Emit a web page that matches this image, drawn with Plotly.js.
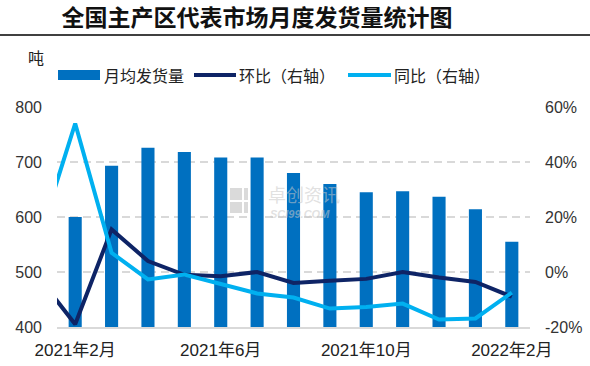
<!DOCTYPE html>
<html>
<head>
<meta charset="utf-8">
<script src="https://cdn.plot.ly/plotly-3.0.1.min.js"></script>
<style>
  html, body { margin: 0; padding: 0; background: #fff; }
  #chart { width: 590px; height: 366px; }
</style>
</head>
<body>
<div id="chart"></div>
<script>
// Months (the first one is only partly visible at the left edge for the lines)
const months = ['2021年1月','2021年2月','2021年3月','2021年4月','2021年5月','2021年6月','2021年7月',
                '2021年8月','2021年9月','2021年10月','2021年11月','2021年12月','2022年1月','2022年2月'];
const barMonths = months.slice(1);
// 月均发货量 (吨)
const shipment = [600, 693, 726, 718, 708, 708, 680, 660, 645, 647, 637, 614, 555];
// 环比 (%)
const mom = [-2, -19, 15.5, 4, -1, -1.5, 0, -4, -3.2, -2.5, 0, -2, -3.6, -9];
// 同比 (%)
const yoy = [12, 54, 7, -2.7, -0.9, -4.2, -7.8, -9.3, -13.3, -12.7, -11.5, -17.3, -16.9, -7.5];
const tickMonths = ['2021年2月', '2021年6月', '2021年10月', '2022年2月'];
const leftTicks = [400, 500, 600, 700, 800];
const rightTicks = [-20, 0, 20, 40, 60];

const W = 590, H = 366, L = 57, R = 60, T = 107, B = 39;
const pw = W - L - R, ph = H - T - B;
const px = x => (x - L) / pw;
const py = y => (H - B - y) / ph;

const numFont = 'Liberation Sans, Arial, Noto Sans CJK SC, sans-serif';
const cjkFont = 'Noto Sans CJK SC, sans-serif';

const traces = [
  {type: 'bar', name: '月均发货量', x: barMonths, y: shipment, marker: {color: '#0070C0'},
   width: 0.36, yaxis: 'y', showlegend: false, hoverinfo: 'x+y'},
  {type: 'scatter', mode: 'lines', name: '环比（右轴）', x: months, y: mom, yaxis: 'y2',
   line: {color: '#0E2466', width: 4}, showlegend: false},
  {type: 'scatter', mode: 'lines', name: '同比（右轴）', x: months, y: yoy, yaxis: 'y2',
   line: {color: '#00B0F0', width: 4}, showlegend: false}
];

const shapes = [
  // title underline
  {type: 'line', xref: 'paper', yref: 'paper', x0: px(0), x1: px(590), y0: py(35), y1: py(35),
   line: {color: '#000', width: 1.6}},
  // legend swatches
  {type: 'rect', xref: 'paper', yref: 'paper', x0: px(58), x1: px(100), y0: py(80), y1: py(70),
   fillcolor: '#0070C0', line: {width: 0}},
  {type: 'line', xref: 'paper', yref: 'paper', x0: px(194), x1: px(236), y0: py(75), y1: py(75),
   line: {color: '#0E2466', width: 4}},
  {type: 'line', xref: 'paper', yref: 'paper', x0: px(348), x1: px(391), y0: py(75), y1: py(75),
   line: {color: '#00B0F0', width: 4}},
  // watermark icon
  {type: 'rect', layer: 'below', xref: 'paper', yref: 'paper', x0: px(230), x1: px(242), y0: py(200), y1: py(188),
   fillcolor: '#dadada', line: {width: 0}},
  {type: 'rect', layer: 'below', xref: 'paper', yref: 'paper', x0: px(244), x1: px(248), y0: py(200), y1: py(188),
   fillcolor: '#dadada', line: {width: 0}},
  {type: 'rect', layer: 'below', xref: 'paper', yref: 'paper', x0: px(230), x1: px(242), y0: py(213), y1: py(202),
   fillcolor: '#dadada', line: {width: 0}},
  {type: 'rect', layer: 'below', xref: 'paper', yref: 'paper', x0: px(244), x1: px(248), y0: py(213), y1: py(202),
   fillcolor: '#dadada', line: {width: 0}}
];

const ann = (text, x, y, size, color, xanchor, extra) => Object.assign({
  text: text, xref: 'paper', yref: 'paper', x: px(x), y: py(y), xanchor: xanchor || 'left', yanchor: 'middle',
  showarrow: false, font: {family: cjkFont, size: size, color: color}
}, extra || {});

const wm = 'rgba(200,200,200,0.55)';
const annotations = [
  ann('吨', 26, 57, 16, '#222'),
  ann('月均发货量', 102, 75, 16, '#222'),
  ann('环比（右轴）', 237, 75, 16, '#222'),
  ann('同比（右轴）', 392, 75, 16, '#222'),
  ann('卓创资讯', 266, 194, 18, wm),
  ann('SCI99.COM', 268, 214, 11, wm, 'left',
      {font: {family: numFont, size: 11, color: wm, weight: 'bold', style: 'italic'}})
];

const layout = {
  width: W, height: H,
  margin: {l: L, r: R, t: T, b: B, pad: 0},
  paper_bgcolor: '#fff', plot_bgcolor: '#fff',
  showlegend: false,
  title: {text: '全国主产区代表市场月度发货量统计图', xref: 'container', yref: 'container',
          x: 257 / W, xanchor: 'center', y: 1 - 18 / H, yanchor: 'middle',
          font: {family: cjkFont, size: 23, color: '#111', weight: 'bold'}},
  xaxis: {type: 'category', categoryorder: 'array', categoryarray: months,
          range: [0.5, 13.5], tickvals: tickMonths, ticktext: tickMonths,
          showgrid: false, zeroline: false, showline: true, linecolor: '#D9D9D9', linewidth: 2,
          ticks: '', ticklabelstandoff: 7,
          tickfont: {family: numFont, size: 17, color: '#222'}},
  yaxis: {range: [400, 800], tickvals: leftTicks, showgrid: true, gridcolor: '#D9D9D9', gridwidth: 2,
          griddash: '8px,5px', zeroline: false, ticks: '', ticklabelstandoff: 14,
          tickfont: {family: numFont, size: 16, color: '#333'}},
  yaxis2: {overlaying: 'y', side: 'right', range: [-20, 60], tickvals: rightTicks,
           ticktext: rightTicks.map(v => v + '%'), showgrid: false, zeroline: false, ticks: '',
           ticklabelstandoff: 14, tickfont: {family: numFont, size: 16, color: '#333'}},
  shapes: shapes,
  annotations: annotations
};

Plotly.newPlot('chart', traces, layout, {displayModeBar: false, staticPlot: true});
</script>
</body>
</html>
